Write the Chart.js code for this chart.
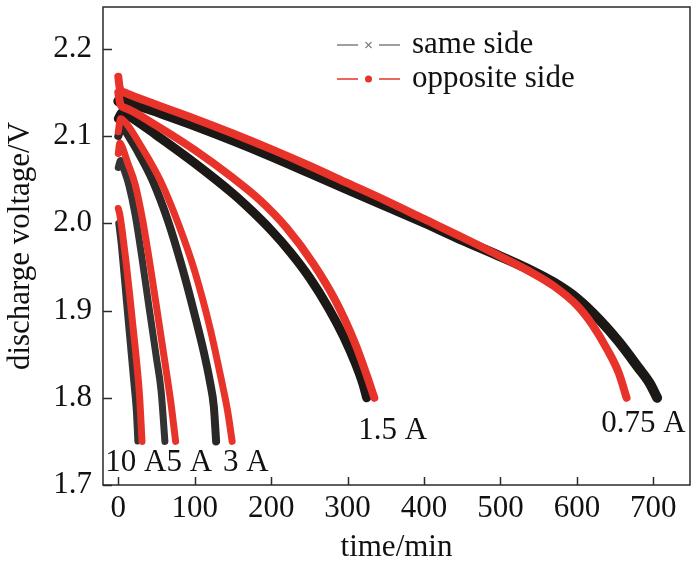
<!DOCTYPE html>
<html lang="en">
<head>
<meta charset="UTF-8" />
<title>Discharge curves</title>
<script src="https://cdn.jsdelivr.net/npm/chart.js"></script>
<style>
  body { margin: 0; background: #fff; }
  #wrap { width: 696px; height: 568px; }
</style>
</head>
<body>
<div id="wrap"><canvas id="dischargeChart" width="696" height="568"></canvas></div>
<script>
// axis ticks
const xTicks = [0, 100, 200, 300, 400, 500, 600, 700];
const yTicks = [1.7, 1.8, 1.9, 2.0, 2.1, 2.2];

// "same side" (black) curves, time in min / voltage in V
const sameT075 = [0, 5, 10, 50, 100, 150, 200, 250, 300, 350, 400, 450, 500, 540, 570, 600, 630, 655, 680, 695, 705];
const sameV075 = [2.140, 2.146, 2.142, 2.128, 2.112, 2.095, 2.077, 2.058, 2.039, 2.020, 2.001, 1.981, 1.962, 1.946, 1.932, 1.914, 1.889, 1.864, 1.835, 1.817, 1.800];
const sameT15 = [0, 5, 10, 50, 100, 150, 175, 200, 225, 250, 275, 295, 310, 320, 325];
const sameV15 = [2.120, 2.127, 2.125, 2.101, 2.069, 2.034, 2.014, 1.992, 1.967, 1.938, 1.903, 1.870, 1.840, 1.816, 1.800];
const sameT3 = [0, 5, 10, 25, 45, 65, 84, 100, 112, 120, 125, 128];
const sameV3 = [2.100, 2.112, 2.105, 2.083, 2.049, 2.003, 1.948, 1.895, 1.852, 1.818, 1.790, 1.750];
const sameT5 = [0, 3, 8, 14, 22, 31, 40, 50, 56, 61];
const sameV5 = [2.064, 2.072, 2.060, 2.043, 2.010, 1.960, 1.905, 1.845, 1.808, 1.750];
const sameT10 = [0, 3, 6, 10, 15, 20, 23, 25];
const sameV10 = [2.000, 1.978, 1.950, 1.911, 1.863, 1.815, 1.785, 1.750];

// "opposite side" (red) curves
const oppT075 = [0, 2, 8, 50, 100, 150, 200, 250, 300, 350, 400, 450, 500, 540, 570, 600, 620, 640, 655, 665];
const oppV075 = [2.168, 2.155, 2.150, 2.136, 2.120, 2.103, 2.085, 2.066, 2.046, 2.026, 2.005, 1.984, 1.962, 1.944, 1.928, 1.906, 1.884, 1.855, 1.828, 1.800];
const oppT15 = [0, 3, 10, 50, 100, 150, 186, 220, 255, 285, 310, 325, 335];
const oppV15 = [2.150, 2.136, 2.132, 2.112, 2.084, 2.052, 2.026, 1.995, 1.954, 1.910, 1.862, 1.826, 1.800];
const oppT3 = [0, 3, 10, 30, 55, 80, 100, 120, 135, 143, 149];
const oppV3 = [2.105, 2.120, 2.115, 2.088, 2.049, 1.996, 1.945, 1.880, 1.820, 1.785, 1.750];
const oppT5 = [0, 2, 5, 12, 22, 32, 42, 52, 62, 69, 75];
const oppV5 = [2.080, 2.092, 2.088, 2.070, 2.045, 2.003, 1.950, 1.893, 1.835, 1.793, 1.750];
const oppT10 = [0, 2, 5, 10, 15, 20, 25, 28, 31];
const oppV10 = [2.017, 2.010, 1.992, 1.957, 1.917, 1.875, 1.832, 1.800, 1.750];

// current labels placed next to the curve ends
const currentLabels = ['10 A', '5 A', '3 A', '1.5 A', '0.75 A'];
const labelT = [23, 93, 167, 359, 687];
const labelV = [1.725, 1.725, 1.725, 1.762, 1.770];

const RED = '#e8332b';
const BLACK = '#1b1815';
const FONT = '"Liberation Serif", "Times New Roman", serif';
const FSIZE = 31;

function pts(t, v) {
  return t.map((x, i) => ({ x: x, y: v[i] }));
}

function line(t, v, color, width) {
  return {
    data: pts(t, v),
    borderColor: color,
    borderWidth: width,
    borderCapStyle: 'round',
    borderJoinStyle: 'round',
    pointRadius: 0,
    cubicInterpolationMode: 'monotone',
    fill: false
  };
}

// frame, inward ticks, legend and current labels
const decorations = {
  id: 'decorations',
  afterDraw(chart) {
    const ctx = chart.ctx;
    const a = chart.chartArea;
    const xs = chart.scales.x, ys = chart.scales.y;
    ctx.save();
    ctx.strokeStyle = '#2a2a2a';
    ctx.lineWidth = 1.5;
    ctx.strokeRect(a.left, a.top, a.right - a.left, a.bottom - a.top);
    ctx.beginPath();
    yTicks.forEach(v => {
      const y = Math.round(ys.getPixelForValue(v)) + 0.5;
      ctx.moveTo(a.left, y);
      ctx.lineTo(a.left + 9, y);
    });
    xTicks.forEach(v => {
      const x = Math.round(xs.getPixelForValue(v)) + 0.5;
      ctx.moveTo(x, a.bottom);
      ctx.lineTo(x, a.bottom - 8);
    });
    ctx.stroke();

    // current labels
    ctx.fillStyle = '#111';
    ctx.font = FSIZE + 'px ' + FONT;
    ctx.textAlign = 'center';
    ctx.textBaseline = 'middle';
    currentLabels.forEach((s, i) => {
      ctx.fillText(s, xs.getPixelForValue(labelT[i]), ys.getPixelForValue(labelV[i]));
    });

    // legend
    const rows = [
      { text: 'same side', color: '#808080', y: 45, mark: 'x' },
      { text: 'opposite side', color: RED, y: 79, mark: 'dot' }
    ];
    ctx.textAlign = 'left';
    rows.forEach(r => {
      ctx.strokeStyle = r.color;
      ctx.lineWidth = 1.5;
      ctx.beginPath();
      ctx.moveTo(337, r.y); ctx.lineTo(358, r.y);
      ctx.moveTo(379, r.y); ctx.lineTo(400, r.y);
      ctx.stroke();
      if (r.mark === 'x') {
        ctx.lineWidth = 1.2;
        ctx.beginPath();
        ctx.moveTo(365.5, r.y - 3); ctx.lineTo(371.5, r.y + 3);
        ctx.moveTo(371.5, r.y - 3); ctx.lineTo(365.5, r.y + 3);
        ctx.stroke();
      } else {
        ctx.fillStyle = r.color;
        ctx.beginPath();
        ctx.arc(368.5, r.y, 3.5, 0, Math.PI * 2);
        ctx.fill();
      }
      ctx.fillStyle = '#111';
      ctx.fillText(r.text, 412, r.y);
    });
    ctx.restore();
  }
};

new Chart(document.getElementById('dischargeChart'), {
  type: 'line',
  data: {
    datasets: [
      line(oppT075, oppV075, RED, 8),
      line(oppT15, oppV15, RED, 8),
      line(oppT3, oppV3, RED, 7),
      line(oppT5, oppV5, RED, 7),
      line(oppT10, oppV10, RED, 7),
      line(sameT075, sameV075, BLACK, 10),
      line(sameT15, sameV15, BLACK, 9),
      line(sameT3, sameV3, '#2a2826', 8),
      line(sameT5, sameV5, '#333', 7),
      line(sameT10, sameV10, '#333', 6)
    ]
  },
  options: {
    responsive: false,
    animation: false,
    layout: { padding: { top: 7, right: 6, left: 0, bottom: 0 } },
    plugins: { legend: { display: false }, tooltip: { enabled: false } },
    scales: {
      x: {
        type: 'linear',
        min: -20,
        max: 748,
        afterBuildTicks: s => { s.ticks = xTicks.map(v => ({ value: v })); },
        afterFit: s => { s.height = 83; s.paddingLeft = 0; s.paddingRight = 0; },
        grid: { display: false, drawTicks: false },
        border: { display: false },
        ticks: { font: { family: FONT, size: FSIZE }, color: '#111', padding: 5, maxRotation: 0, autoSkip: false },
        title: { display: true, text: 'time/min', font: { family: FONT, size: FSIZE }, color: '#111', padding: { top: 0, bottom: 2 } }
      },
      y: {
        type: 'linear',
        min: 1.7,
        max: 2.248,
        afterBuildTicks: s => { s.ticks = yTicks.map(v => ({ value: v })); },
        afterFit: s => { s.width = 103; s.paddingTop = 0; s.paddingBottom = 0; },
        grid: { display: false, drawTicks: false },
        border: { display: false },
        ticks: { font: { family: FONT, size: FSIZE }, color: '#111', padding: 11, callback: v => v.toFixed(1) },
        title: { display: true, text: 'discharge voltage/V', font: { family: FONT, size: FSIZE }, color: '#111', padding: { top: 2, bottom: 0 } }
      }
    }
  },
  plugins: [decorations]
});
</script>
</body>
</html>
